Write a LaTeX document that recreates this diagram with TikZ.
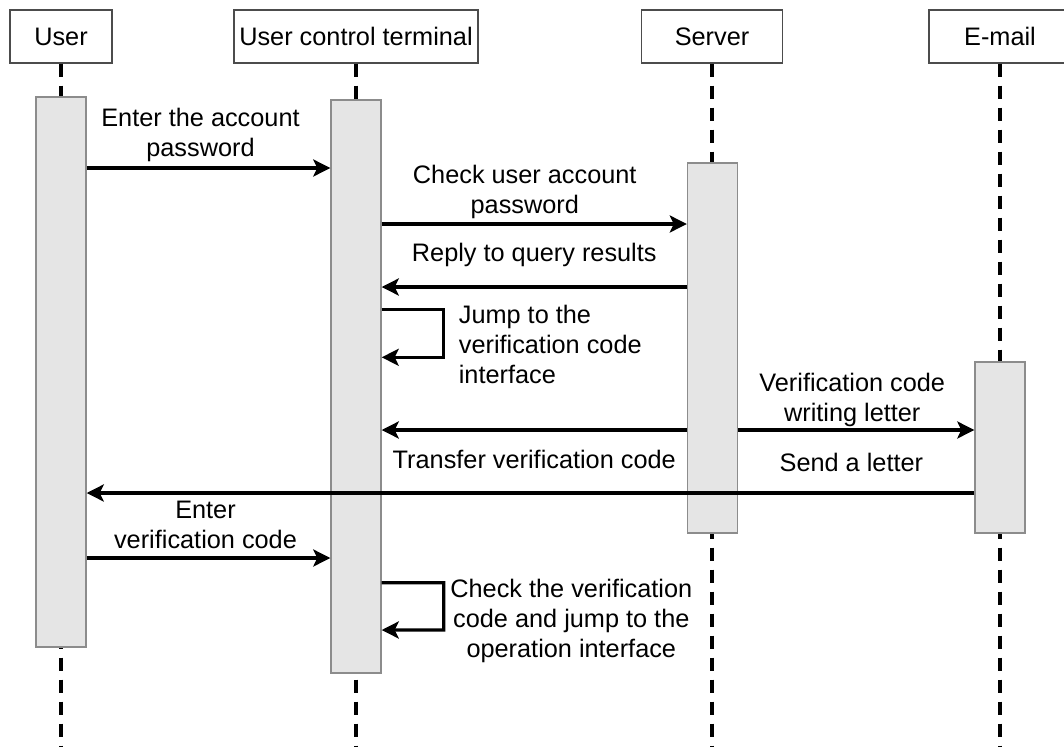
\documentclass[tikz,border=0pt]{standalone}
\usepackage{fontspec}
\setmainfont{Liberation Sans}
\usetikzlibrary{arrows.meta}

\begin{document}
\begin{tikzpicture}[x=0.02cm, y=-0.02cm]
    \tikzstyle{every node}=[font=\fontsize{14.4}{17.1}\selectfont]
    \tikzstyle{header}=[draw=black!70, line width=0.8pt, fill=white, minimum height=1.06cm, inner sep=0pt]
    \tikzstyle{bar}=[draw=black!45, line width=0.8pt, fill=black!10, minimum width=1cm, inner sep=0pt]
    \tikzstyle{lifeline}=[line width=1.9pt, dash pattern=on 0.26cm off 0.18cm]
    \tikzstyle{msg}=[line width=1.9pt, -{Stealth[length=0.34cm, width=0.34cm, inset=0.08cm]}]
    \tikzstyle{lbl}=[inner sep=0pt, align=center]
    \useasboundingbox (0,0) rectangle (1064,747);
    \clip (0,0) rectangle (1064,747);
    \node [header, minimum width=2.04cm] (user) at (61,36.5) {User};
    \node [header, minimum width=4.88cm] (uct) at (356,36.5) {User control terminal};
    \node [header, minimum width=2.82cm] (server) at (712,36.5) {Server};
    \node [header, minimum width=2.84cm] (email) at (1000,36.5) {E-mail};
    \coordinate (bottom) at (0,747);
    \foreach \n in {user,uct,server,email} \draw [lifeline] (\n.south) -- (\n.south |- bottom);
    \node [bar, minimum height=11cm] (userbar) at (61,372) {};
    \node [bar, minimum height=11.46cm] (uctbar) at (356,386.5) {};
    \node [bar, minimum height=7.4cm] (srvbar) at (712.5,348) {};
    \node [bar, minimum height=3.42cm] (mailbar) at (1000,447.5) {};
    \coordinate (t1) at (0,168);
    \coordinate (t2) at (0,224);
    \coordinate (t3) at (0,287);
    \coordinate (t4) at (0,309.3);
    \coordinate (t4b) at (0,357.3);
    \coordinate (t5) at (0,430);
    \coordinate (t7) at (0,493);
    \coordinate (t8) at (0,558);
    \coordinate (t9) at (0,582.7);
    \coordinate (t9b) at (0,630);
    \draw [msg] (userbar.east |- t1) -- (uctbar.west |- t1) node [lbl, midway, above=0.09cm, xshift=-0.16cm] {Enter the account\\password};
    \draw [msg] (uctbar.east |- t2) -- (srvbar.west |- t2) node [lbl, midway, above=0.07cm, xshift=-0.19cm] {Check user account\\password};
    \draw [msg] (srvbar.west |- t3) -- (uctbar.east |- t3) node [lbl, midway, above=0.38cm] {Reply to query results};
    \draw [msg] (uctbar.east |- t4) -| ++(62,48) node [lbl, align=left, pos=0.5, anchor=north west, xshift=0.27cm, yshift=0.12cm] {Jump to the\\verification code\\interface} -- (uctbar.east |- t4b);
    \draw [msg] (srvbar.east |- t5) -- (mailbar.west |- t5) node [lbl, midway, above=0.04cm, xshift=-0.08cm] {Verification code\\writing letter};
    \draw [msg] (srvbar.west |- t5) -- (uctbar.east |- t5) node [lbl, midway, below=0.37cm] {Transfer verification code};
    \draw [msg] (mailbar.west |- t7) -- (userbar.east |- t7) node [lbl, pos=0.1385, above=0.4cm] {Send a letter};
    \draw [msg] (userbar.east |- t8) -- (uctbar.west |- t8) node [lbl, midway, above=0.16cm, xshift=-0.06cm] {Enter\\verification code};
    \draw [msg] (uctbar.east |- t9) -| ++(62,47.3) node [lbl, pos=0.5, anchor=north west, xshift=0.1cm, yshift=0.1cm] {Check the verification\\code and jump to the\\operation interface} -- (uctbar.east |- t9b);
\end{tikzpicture}
\end{document}
